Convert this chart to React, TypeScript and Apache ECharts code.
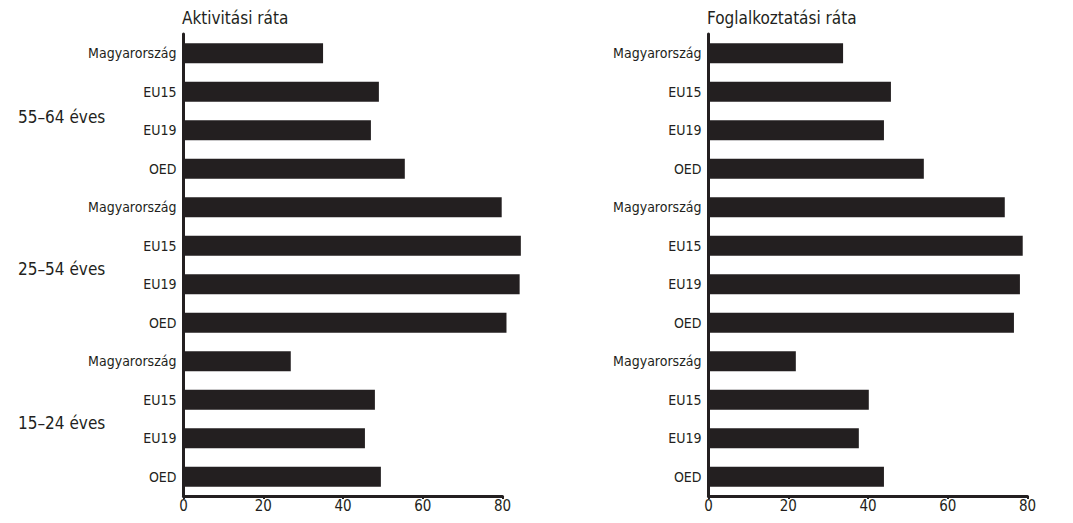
import React, { useEffect, useRef } from "react";
import * as echarts from "echarts";

const categories = [
  "Magyarország", "EU15", "EU19", "OED",
  "Magyarország", "EU15", "EU19", "OED",
  "Magyarország", "EU15", "EU19", "OED",
];
const groupLabels = ["55–64 éves", "25–54 éves", "15–24 éves"];
const panelTitles = ["Aktivitási ráta", "Foglalkoztatási ráta"];
const aktivitasi = [35.0, 49.0, 47.0, 55.5, 79.8, 84.6, 84.3, 81.0, 26.9, 48.0, 45.5, 49.5];
const foglalkoztatasi = [33.75, 45.75, 44.0, 54.0, 74.3, 78.8, 78.1, 76.6, 21.9, 40.2, 37.7, 44.0];
const xMin = 0;
const xMax = 80;
const xInterval = 20;

const FONT = "'Liberation Sans Narrow', 'DejaVu Sans Condensed', 'Roboto', sans-serif";
const INK = "#231f20";

export default function App() {
  const ref = useRef<HTMLDivElement>(null);
  useEffect(() => {
    if (!ref.current) return;
    const chart = echarts.init(ref.current, undefined, { renderer: "svg" });
    const grids = [
      { left: 183.5, top: 34, width: 319, height: 462 },
      { left: 708.5, top: 34, width: 319, height: 462 },
    ];
    const xAxes = grids.map((_, i) => ({
      type: "value",
      gridIndex: i,
      min: xMin,
      max: xMax,
      interval: xInterval,
      splitLine: { show: false },
      axisLine: { show: true, lineStyle: { color: INK, width: 3 } },
      axisTick: { show: true, length: 3, lineStyle: { color: INK, width: 2 } },
      axisLabel: { color: INK, fontFamily: FONT, fontSize: 15, margin: 2 },
    }));
    const yAxes = grids.map((_, i) => ({
      type: "category",
      gridIndex: i,
      inverse: true,
      data: categories,
      axisLine: { show: true, lineStyle: { color: INK, width: 3 } },
      axisTick: { show: false },
      axisLabel: { color: INK, fontFamily: FONT, fontSize: 14, margin: 7 },
    }));
    const series = [aktivitasi, foglalkoztatasi].map((d, i) => ({
      type: "bar",
      xAxisIndex: i,
      yAxisIndex: i,
      data: d,
      barWidth: 20,
      clip: false,
      itemStyle: { color: INK },
    }));
    const groupY = [118, 270, 424];
    chart.setOption({
      animation: false,
      title: panelTitles.map((t, i) => ({
        text: t,
        left: grids[i].left - 1.5,
        top: 9,
        padding: 0,
        textStyle: { color: INK, fontFamily: FONT, fontSize: 17, fontWeight: "normal" },
      })),
      grid: grids,
      xAxis: xAxes,
      yAxis: yAxes,
      series,
      graphic: groupLabels.map((g, i) => ({
        type: "text",
        left: 18,
        top: groupY[i] - 10,
        style: { text: g, fill: INK, font: `17px ${FONT}` },
      })),
    });
    return () => chart.dispose();
  }, []);
  return (
    <div
      ref={ref}
      style={{ position: "fixed", left: 0, top: 0, width: 1073, height: 523, background: "#fff" }}
    />
  );
}
